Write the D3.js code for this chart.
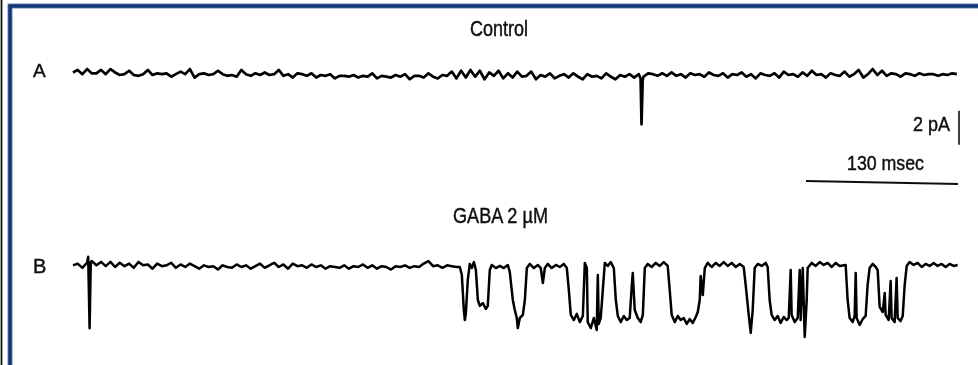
<!DOCTYPE html>
<html>
<head>
<meta charset="utf-8">
<script src="https://cdn.jsdelivr.net/npm/d3@7"></script>
<style>
  html, body { margin: 0; padding: 0; background: #fff; }
  svg { display: block; }
  text { font-family: "Liberation Sans", Arial, sans-serif; fill: #111; stroke: #111; stroke-width: 0.45; }
</style>
</head>
<body>
<div id="chart"></div>
<script>
// sweep length (ms) and sampling of the baseline noise
const sweepMs = 757;
const sampleMs = 4;

// trace A (control) baseline noise, pA, one value every 4 ms
const controlNoise = [
  0.15, 0.3, 0.05, 0.35, 0.1, 0.1, 0.3, 0.05, 0.35, 0.15,
  0.0, 0.05, 0.25, 0.0, -0.05, 0.05, 0.3, 0.0, 0.1, 0.05,
  0.1, -0.1, 0.05, 0.2, 0.05, 0.35, -0.15, 0.05, 0.1, 0.0,
  0.05, 0.25, 0.05, -0.05, 0.0, -0.1, 0.3, 0.05, -0.05, 0.1,
  0.0, 0.15, 0.0, 0.05, 0.3, -0.05, 0.05, -0.15, 0.1, 0.05,
  -0.05, 0.1, -0.15, 0.0, -0.05, 0.05, -0.2, -0.05, -0.05, -0.1,
  0.0, -0.15, -0.05, -0.1, 0.1, -0.2, -0.05, -0.1, -0.15, 0.0,
  -0.1, 0.05, -0.25, -0.05, -0.05, -0.15, 0.1, -0.1, -0.2, 0.0,
  -0.05, 0.2, -0.2, 0.25, -0.15, 0.3, -0.1, 0.25, -0.25, 0.15,
  -0.05, 0.25, -0.2, 0.1, -0.15, 0.2, -0.1, -0.05, 0.2, -0.25,
  0.0, -0.1, 0.1, -0.2, -0.05, 0.05, -0.15, 0.1, -0.1, -0.25,
  0.05, -0.1, -0.05, -0.2, 0.1, -0.1, -0.25, 0.0, -0.1, 0.05,
  -0.15, 0.05, -0.1, 0.1, 0.05, -0.05, 0.1, -0.05, 0.15, -0.05,
  0.05, -0.15, 0.1, 0.0, 0.05, -0.1, 0.15, 0.0, -0.05, 0.1,
  -0.15, 0.05, 0.0, 0.15, -0.1, 0.05, -0.2, 0.1, 0.0, -0.05,
  0.1, -0.15, 0.2, 0.0, 0.05, -0.1, 0.15, -0.05, 0.25, 0.0,
  0.05, -0.15, 0.1, 0.0, -0.05, 0.2, -0.1, 0.05, 0.3, -0.15,
  0.05, 0.35, 0.0, 0.25, -0.05, 0.1, 0.05, -0.1, 0.1, 0.05,
  -0.05, 0.1, 0.0, 0.05, 0.05, -0.05, 0.05, 0.0, 0.1, 0.05
];
// single brief opening in control [ms, pA]
const controlEvents = [[485.5, -0.2], [486.3, -2.9], [487.3, -0.3]];

// trace B (GABA 2 uM) baseline noise before the burst, every 4 ms
const gabaNoise = [
  0.1, 0.2, -0.05, 0.25, 0.35, 0.1, 0.3, 0.05, 0.3, 0.0,
  0.25, 0.05, 0.2, -0.05, 0.3, 0.1, 0.15, -0.1, 0.2, 0.05,
  0.1, 0.25, -0.05, 0.15, 0.0, 0.2, 0.05, -0.1, 0.1, 0.0,
  0.05, -0.15, 0.1, 0.0, -0.05, 0.15, 0.0, 0.1, -0.1, 0.05,
  0.2, -0.05, 0.1, 0.25, 0.0, 0.15, -0.1, 0.2, 0.05, 0.1,
  -0.05, 0.15, 0.0, 0.1, -0.1, 0.05, 0.0, -0.05, 0.1, -0.1,
  0.05, 0.0, 0.15, -0.05, 0.1, -0.1, 0.05, 0.0, -0.15, 0.05,
  0.0, 0.1, -0.05, 0.05, 0.0, 0.2, 0.35, 0.05, 0.1, -0.05,
  0.1, 0.05, 0.0
];
// early brief opening [ms, pA]
const gabaEvents = [[13.0, 0.6], [14.2, -3.6], [15.2, 0.3]];
// burst of openings, traced vertex by vertex [ms, pA]
const gabaBurst = [
  [330.9, 0.0], [332.6, -0.47], [334.3, -2.53], [335.2, -3.12], [336.0, -2.76], [337.7, -0.76],
  [339.4, 0.18], [341.1, -0.06], [342.9, 0.29], [344.6, -0.18], [346.3, -1.94], [348.0, -2.29],
  [350.6, -2.12], [353.1, -2.47], [354.8, -2.29], [356.5, -0.18], [358.2, 0.12], [361.7, -0.06],
  [365.1, 0.06], [368.5, -0.06], [371.9, 0.12], [373.6, -0.29], [376.2, -1.94], [377.9, -2.53],
  [379.6, -3.0], [380.5, -3.59], [382.2, -3.0], [384.8, -2.82], [386.5, -1.94], [388.2, -0.06],
  [390.7, 0.18], [394.2, -0.06], [397.6, 0.12], [400.1, -0.06], [401.9, -0.94], [403.6, -0.06],
  [406.1, 0.18], [409.5, -0.06], [413.0, 0.12], [416.4, 0.0], [419.8, 0.18], [422.4, -0.06],
  [424.1, -1.35], [425.8, -2.82], [428.4, -3.12], [430.9, -2.76], [433.5, -3.24], [436.1, -2.88],
  [437.8, 0.24], [439.5, -0.06], [440.3, -3.24], [442.9, -3.59], [445.5, -3.0], [448.0, -3.71],
  [448.9, -0.47], [449.7, -3.35], [451.4, -3.0], [453.2, -1.35], [454.9, 0.24], [457.4, 0.06],
  [460.0, 0.29], [462.6, -0.06], [464.3, -1.94], [466.0, -2.88], [468.5, -3.24], [471.1, -2.88],
  [473.7, -3.12], [476.2, -3.0], [478.0, -1.06], [478.8, -0.35], [480.5, -2.53], [483.1, -3.0],
  [485.6, -3.24], [487.4, -2.82], [489.1, -0.06], [491.6, 0.18], [495.0, 0.0], [498.5, 0.24],
  [501.9, 0.06], [505.3, 0.29], [508.7, 0.06], [510.4, -1.35], [512.1, -2.82], [514.7, -3.24],
  [517.3, -2.88], [519.8, -3.12], [522.4, -3.0], [525.0, -3.35], [527.5, -3.06], [530.1, -3.29],
  [532.7, -2.94], [534.4, -2.65], [536.1, -1.94], [536.9, -0.53], [538.7, -1.65], [540.4, -0.06],
  [542.9, 0.24], [546.3, 0.0], [549.8, 0.24], [553.2, 0.06], [556.6, 0.29], [560.0, 0.06],
  [563.4, 0.24], [566.9, 0.0], [570.3, 0.18], [573.7, 0.0], [575.4, -1.06], [578.0, -2.82],
  [579.7, -3.88], [581.4, -2.53], [583.1, -0.06], [585.7, 0.18], [589.1, 0.06], [592.5, 0.24],
  [594.2, 0.0], [595.9, -1.94], [597.6, -2.82], [600.2, -3.12], [602.8, -2.88], [605.3, -3.29],
  [607.9, -2.94], [610.5, -3.12], [612.2, -3.0], [613.9, -0.18], [614.7, -2.82], [617.3, -3.24],
  [619.9, -3.0], [621.6, -0.18], [622.4, -3.12], [624.2, -0.06], [625.9, -4.12], [627.6, -1.94],
  [628.4, -0.06], [631.8, 0.24], [635.3, 0.06], [638.7, 0.29], [642.1, 0.12], [645.5, 0.24],
  [649.0, 0.0], [652.4, 0.24], [655.8, 0.06], [660.9, 0.12], [662.6, -1.94], [664.3, -3.0],
  [666.9, -3.24], [668.6, -2.88], [669.5, -0.35], [670.3, -3.0], [672.9, -3.41], [675.5, -3.06],
  [678.0, -2.88], [679.7, -1.06], [681.4, -0.06], [684.0, 0.18], [686.6, 0.0], [688.3, -0.18],
  [690.0, -2.35], [692.6, -2.65], [694.3, -1.53], [695.1, -2.82], [697.7, -3.12], [699.4, -0.82],
  [700.2, -3.0], [702.8, -3.24], [704.5, -0.65], [705.4, -3.0], [707.9, -3.18], [709.7, -2.88],
  [711.4, -1.06], [713.1, 0.06], [715.6, 0.29], [719.1, 0.12], [722.5, 0.24], [725.9, 0.0],
  [729.3, 0.18], [732.7, 0.06], [736.2, 0.24], [739.6, 0.06], [743.0, 0.18], [746.4, 0.0],
  [749.8, 0.18], [753.3, 0.06], [756.7, 0.12]
];

// labels
const traceLabels = ['A', 'B'];
const conditionLabels = ['Control', 'GABA 2 \u00b5M'];
const scaleBarPA = 2;
const scaleBarMs = 130;

const width = 978, height = 365;

const svg = d3.select('#chart').append('svg')
  .attr('width', width)
  .attr('height', height);

// soft blur so the traces look like the scanned print
svg.append('defs').append('filter')
  .attr('id', 'scan')
  .append('feGaussianBlur')
  .attr('stdDeviation', 0.45);

// frame: thin black rule on the left, navy rules top and left
svg.append('line')
  .attr('x1', 1.5).attr('x2', 1.5).attr('y1', 0).attr('y2', height)
  .attr('stroke', '#111').attr('stroke-width', 1.8);
svg.append('path')
  .attr('d', `M10,${height} V6 H${width}`)
  .attr('fill', 'none').attr('stroke', '#7189b6').attr('stroke-width', 5);
svg.append('path')
  .attr('d', `M10,${height} V6 H${width}`)
  .attr('fill', 'none').attr('stroke', '#14367a').attr('stroke-width', 3.4);

const g = svg.append('g').attr('filter', 'url(#scan)');

// scales
const x = d3.scaleLinear().domain([0, sweepMs]).range([73, 958]);
const yA = d3.scaleLinear().domain([0, -4]).range([75, 143]);
const yB = d3.scaleLinear().domain([0, -4]).range([267, 335]);

// turn the sampled noise + the traced events into one sorted point list
function buildTrace(noise, events, extra) {
  const pts = noise.map((v, i) => [i * sampleMs, v]);
  return pts.concat(events, extra || []).sort((a, b) => a[0] - b[0]);
}

const traceA = buildTrace(controlNoise, controlEvents);
const traceB = buildTrace(gabaNoise, gabaEvents, gabaBurst);

const lineA = d3.line().x(d => x(d[0])).y(d => yA(d[1]));
const lineB = d3.line().x(d => x(d[0])).y(d => yB(d[1]));

g.append('path')
  .datum(traceA)
  .attr('fill', 'none')
  .attr('stroke', '#000')
  .attr('stroke-width', 2.7)
  .attr('stroke-linejoin', 'round')
  .attr('d', lineA);

g.append('path')
  .datum(traceB)
  .attr('fill', 'none')
  .attr('stroke', '#000')
  .attr('stroke-width', 2.5)
  .attr('stroke-linejoin', 'round')
  .attr('d', lineB);

// trace letters
g.append('text').attr('x', 33).attr('y', 77)
  .attr('font-size', 19).text(traceLabels[0]);
g.append('text').attr('x', 33).attr('y', 273)
  .attr('font-size', 20).text(traceLabels[1]);

// condition titles
g.append('text').attr('x', 470).attr('y', 36)
  .attr('font-size', 22)
  .attr('textLength', 58).attr('lengthAdjust', 'spacingAndGlyphs')
  .text(conditionLabels[0]);
g.append('text').attr('x', 453).attr('y', 223)
  .attr('font-size', 22)
  .attr('textLength', 95).attr('lengthAdjust', 'spacingAndGlyphs')
  .text(conditionLabels[1]);

// scale bars
const barX = x(sweepMs) + 1;
g.append('line')
  .attr('x1', barX).attr('x2', barX)
  .attr('y1', yA(-2.1)).attr('y2', yA(-2.1 - scaleBarPA))
  .attr('stroke', '#111').attr('stroke-width', 1.6);
g.append('text').attr('x', 913).attr('y', 131)
  .attr('font-size', 20)
  .attr('textLength', 37).attr('lengthAdjust', 'spacingAndGlyphs')
  .text(`${scaleBarPA} pA`);

const barY = yA(-6.3);
g.append('line')
  .attr('x1', x(sweepMs - scaleBarMs)).attr('x2', x(sweepMs))
  .attr('y1', barY - 1).attr('y2', barY + 2)
  .attr('stroke', '#111').attr('stroke-width', 2);
g.append('text').attr('x', 847).attr('y', 170)
  .attr('font-size', 21)
  .attr('textLength', 77).attr('lengthAdjust', 'spacingAndGlyphs')
  .text(`${scaleBarMs} msec`);
</script>
</body>
</html>
